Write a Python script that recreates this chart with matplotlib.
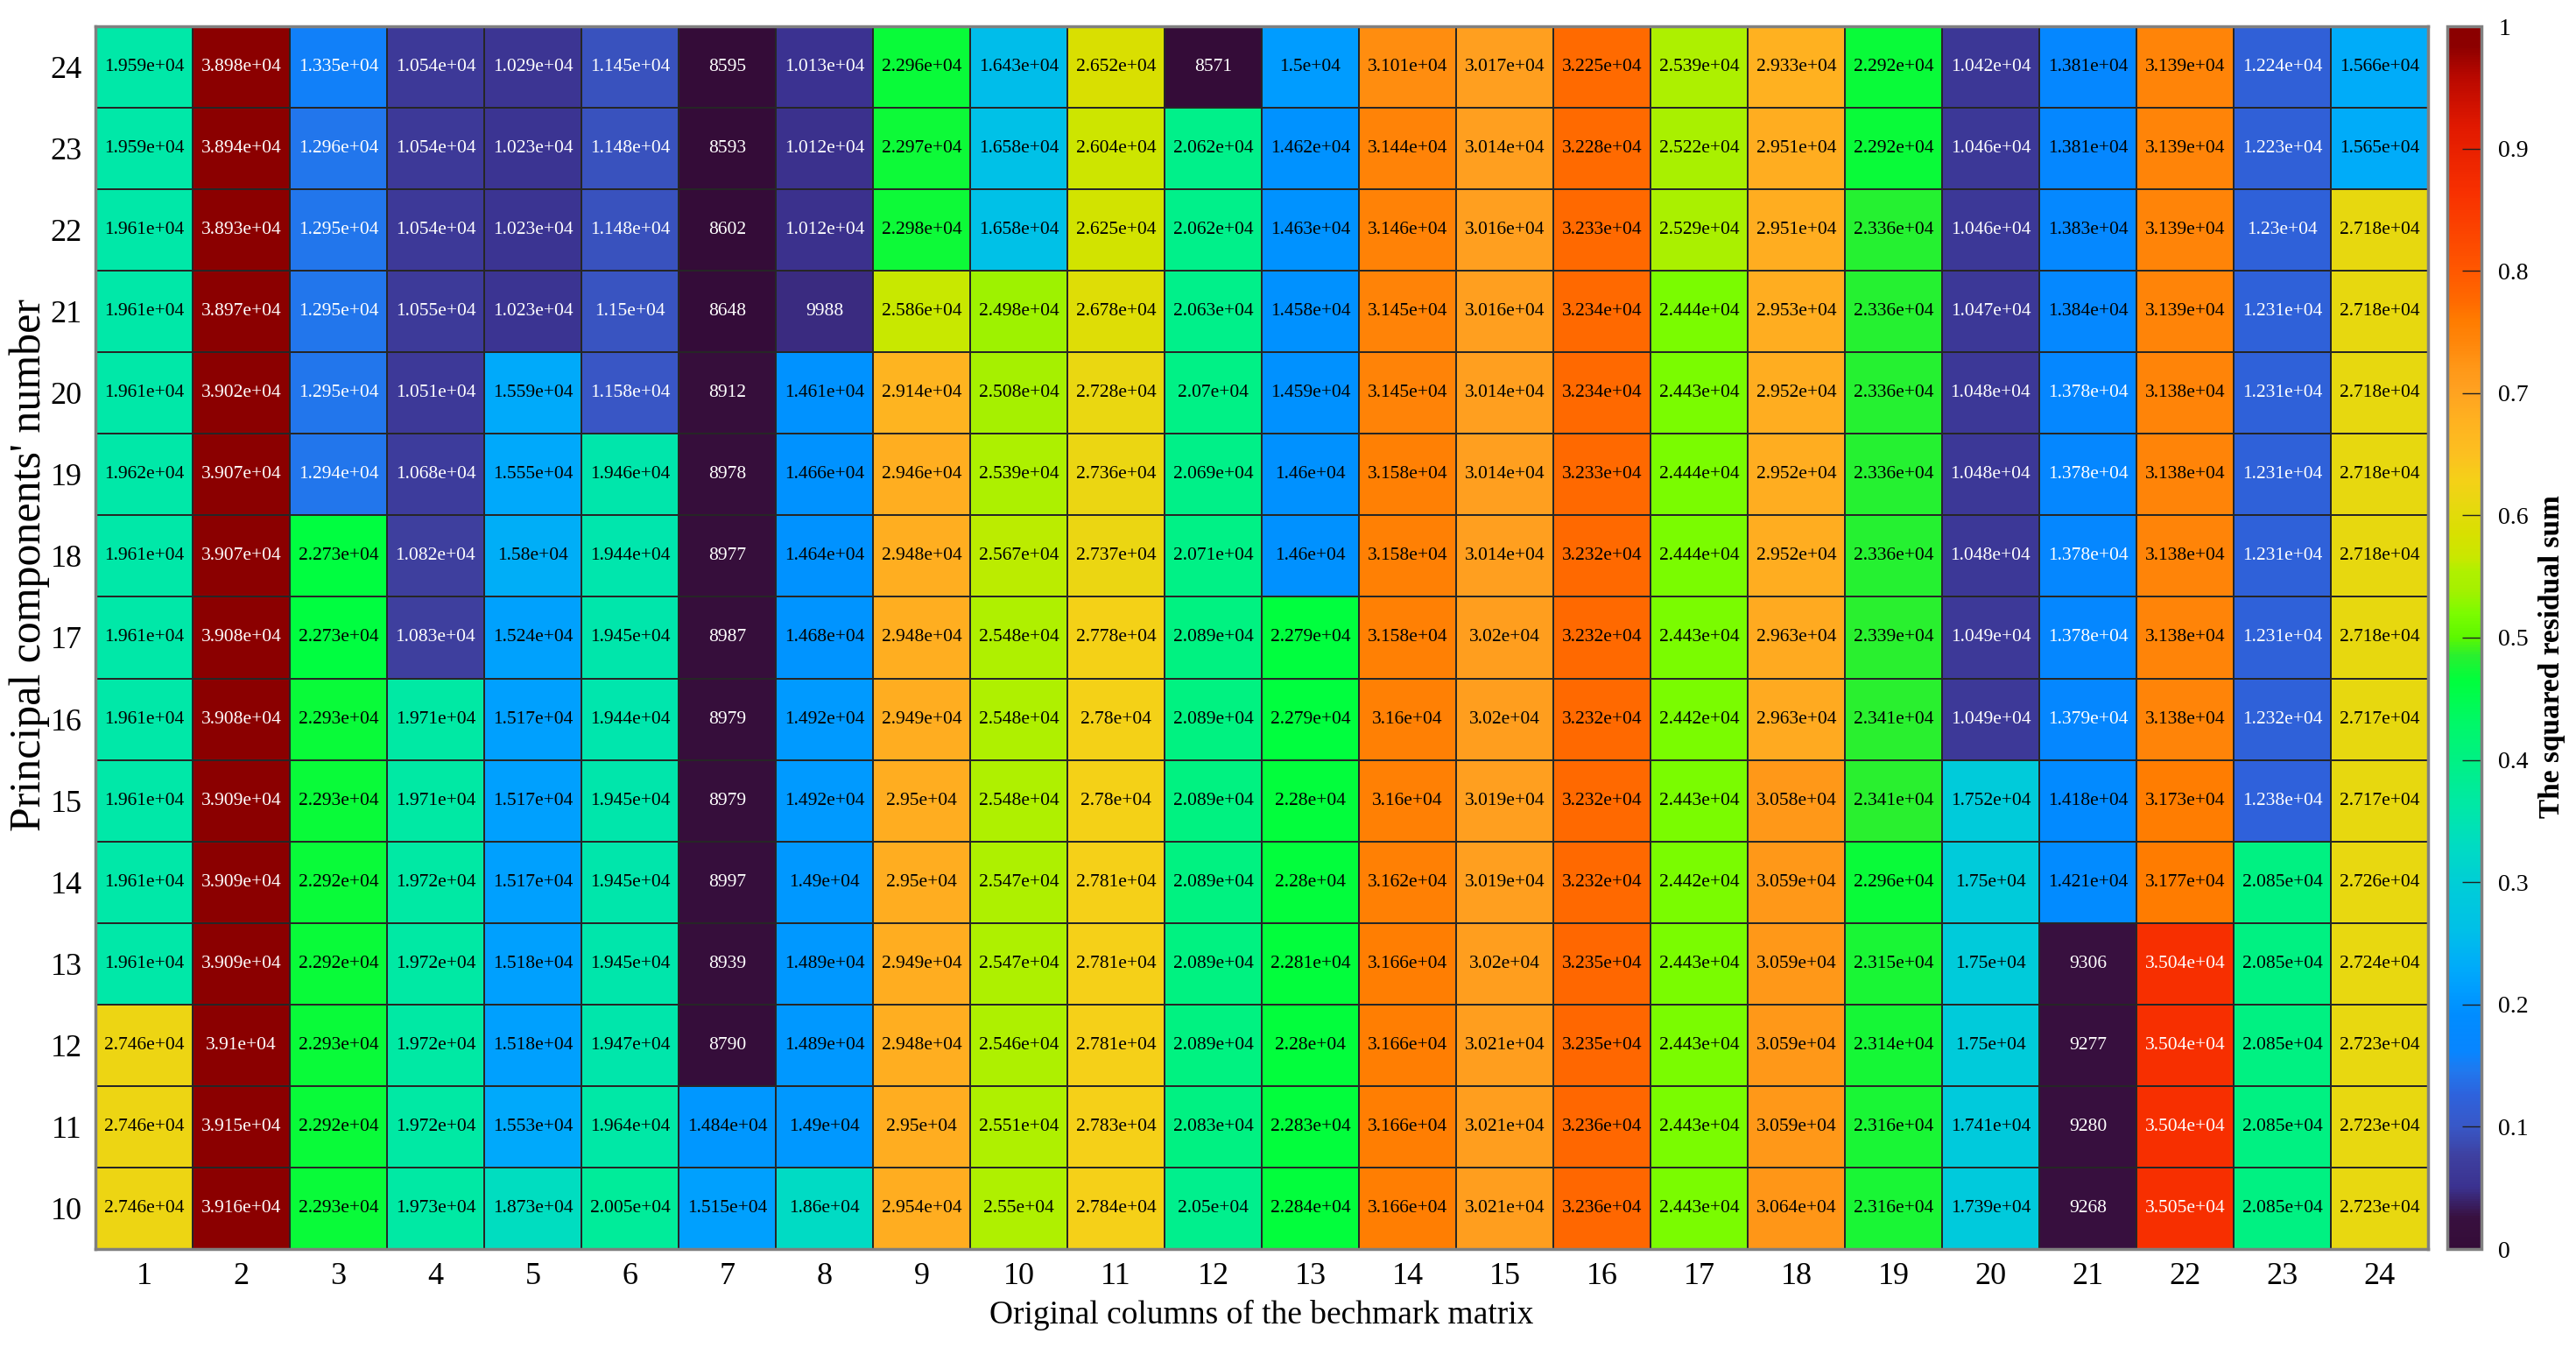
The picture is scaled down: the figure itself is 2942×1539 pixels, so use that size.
import numpy as np
import matplotlib
matplotlib.use("Agg")
import matplotlib.pyplot as plt
from matplotlib.colors import LinearSegmentedColormap

plt.rcParams['font.family'] = ['Liberation Serif', 'DejaVu Serif']

# ---------------- data ----------------
columns = list(range(1, 25))
pcs = [24, 23, 22, 21, 20, 19, 18, 17, 16, 15, 14, 13, 12, 11, 10]  # top -> bottom

row24 = [1.959e4, 3.898e4, 1.335e4, 1.054e4, 1.029e4, 1.145e4, 8595, 1.013e4, 2.296e4, 1.643e4, 2.652e4, 8571, 1.5e4, 3.101e4, 3.017e4, 3.225e4, 2.539e4, 2.933e4, 2.292e4, 1.042e4, 1.381e4, 3.139e4, 1.224e4, 1.566e4]
row23 = [1.959e4, 3.894e4, 1.296e4, 1.054e4, 1.023e4, 1.148e4, 8593, 1.012e4, 2.297e4, 1.658e4, 2.604e4, 2.062e4, 1.462e4, 3.144e4, 3.014e4, 3.228e4, 2.522e4, 2.951e4, 2.292e4, 1.046e4, 1.381e4, 3.139e4, 1.223e4, 1.565e4]
row22 = [1.961e4, 3.893e4, 1.295e4, 1.054e4, 1.023e4, 1.148e4, 8602, 1.012e4, 2.298e4, 1.658e4, 2.625e4, 2.062e4, 1.463e4, 3.146e4, 3.016e4, 3.233e4, 2.529e4, 2.951e4, 2.336e4, 1.046e4, 1.383e4, 3.139e4, 1.23e4, 2.718e4]
row21 = [1.961e4, 3.897e4, 1.295e4, 1.055e4, 1.023e4, 1.15e4, 8648, 9988, 2.586e4, 2.498e4, 2.678e4, 2.063e4, 1.458e4, 3.145e4, 3.016e4, 3.234e4, 2.444e4, 2.953e4, 2.336e4, 1.047e4, 1.384e4, 3.139e4, 1.231e4, 2.718e4]
row20 = [1.961e4, 3.902e4, 1.295e4, 1.051e4, 1.559e4, 1.158e4, 8912, 1.461e4, 2.914e4, 2.508e4, 2.728e4, 2.07e4, 1.459e4, 3.145e4, 3.014e4, 3.234e4, 2.443e4, 2.952e4, 2.336e4, 1.048e4, 1.378e4, 3.138e4, 1.231e4, 2.718e4]
row19 = [1.962e4, 3.907e4, 1.294e4, 1.068e4, 1.555e4, 1.946e4, 8978, 1.466e4, 2.946e4, 2.539e4, 2.736e4, 2.069e4, 1.46e4, 3.158e4, 3.014e4, 3.233e4, 2.444e4, 2.952e4, 2.336e4, 1.048e4, 1.378e4, 3.138e4, 1.231e4, 2.718e4]
row18 = [1.961e4, 3.907e4, 2.273e4, 1.082e4, 1.58e4, 1.944e4, 8977, 1.464e4, 2.948e4, 2.567e4, 2.737e4, 2.071e4, 1.46e4, 3.158e4, 3.014e4, 3.232e4, 2.444e4, 2.952e4, 2.336e4, 1.048e4, 1.378e4, 3.138e4, 1.231e4, 2.718e4]
row17 = [1.961e4, 3.908e4, 2.273e4, 1.083e4, 1.524e4, 1.945e4, 8987, 1.468e4, 2.948e4, 2.548e4, 2.778e4, 2.089e4, 2.279e4, 3.158e4, 3.02e4, 3.232e4, 2.443e4, 2.963e4, 2.339e4, 1.049e4, 1.378e4, 3.138e4, 1.231e4, 2.718e4]
row16 = [1.961e4, 3.908e4, 2.293e4, 1.971e4, 1.517e4, 1.944e4, 8979, 1.492e4, 2.949e4, 2.548e4, 2.78e4, 2.089e4, 2.279e4, 3.16e4, 3.02e4, 3.232e4, 2.442e4, 2.963e4, 2.341e4, 1.049e4, 1.379e4, 3.138e4, 1.232e4, 2.717e4]
row15 = [1.961e4, 3.909e4, 2.293e4, 1.971e4, 1.517e4, 1.945e4, 8979, 1.492e4, 2.95e4, 2.548e4, 2.78e4, 2.089e4, 2.28e4, 3.16e4, 3.019e4, 3.232e4, 2.443e4, 3.058e4, 2.341e4, 1.752e4, 1.418e4, 3.173e4, 1.238e4, 2.717e4]
row14 = [1.961e4, 3.909e4, 2.292e4, 1.972e4, 1.517e4, 1.945e4, 8997, 1.49e4, 2.95e4, 2.547e4, 2.781e4, 2.089e4, 2.28e4, 3.162e4, 3.019e4, 3.232e4, 2.442e4, 3.059e4, 2.296e4, 1.75e4, 1.421e4, 3.177e4, 2.085e4, 2.726e4]
row13 = [1.961e4, 3.909e4, 2.292e4, 1.972e4, 1.518e4, 1.945e4, 8939, 1.489e4, 2.949e4, 2.547e4, 2.781e4, 2.089e4, 2.281e4, 3.166e4, 3.02e4, 3.235e4, 2.443e4, 3.059e4, 2.315e4, 1.75e4, 9306, 3.504e4, 2.085e4, 2.724e4]
row12 = [2.746e4, 3.91e4, 2.293e4, 1.972e4, 1.518e4, 1.947e4, 8790, 1.489e4, 2.948e4, 2.546e4, 2.781e4, 2.089e4, 2.28e4, 3.166e4, 3.021e4, 3.235e4, 2.443e4, 3.059e4, 2.314e4, 1.75e4, 9277, 3.504e4, 2.085e4, 2.723e4]
row11 = [2.746e4, 3.915e4, 2.292e4, 1.972e4, 1.553e4, 1.964e4, 1.484e4, 1.49e4, 2.95e4, 2.551e4, 2.783e4, 2.083e4, 2.283e4, 3.166e4, 3.021e4, 3.236e4, 2.443e4, 3.059e4, 2.316e4, 1.741e4, 9280, 3.504e4, 2.085e4, 2.723e4]
row10 = [2.746e4, 3.916e4, 2.293e4, 1.973e4, 1.873e4, 2.005e4, 1.515e4, 1.86e4, 2.954e4, 2.55e4, 2.784e4, 2.05e4, 2.284e4, 3.166e4, 3.021e4, 3.236e4, 2.443e4, 3.064e4, 2.316e4, 1.739e4, 9268, 3.505e4, 2.085e4, 2.723e4]

x_label = "Original columns of the bechmark matrix"
y_label = "Principal components' number"
cbar_label = "The squared residual sum"
cbar_ticks = [0, 0.1, 0.2, 0.3, 0.4, 0.5, 0.6, 0.7, 0.8, 0.9, 1]

rows = [row24, row23, row22, row21, row20, row19, row18, row17, row16,
        row15, row14, row13, row12, row11, row10]
vals = np.array(rows, dtype=float)
norm_vals = (vals - vals.min()) / (vals.max() - vals.min())

# ---------------- colormap ----------------
anchors = [
    (0.000, '#340c38'), (0.025, '#38103f'), (0.050, '#3b3290'),
    (0.075, '#3e40a0'), (0.100, '#3858c8'), (0.125, '#2e62dc'),
    (0.145, '#2078ee'), (0.160, '#0885ff'), (0.190, '#008cff'),
    (0.210, '#009cff'), (0.230, '#00abfa'), (0.260, '#00c0e8'),
    (0.300, '#00ced6'), (0.330, '#00dcc2'), (0.360, '#00e8a8'),
    (0.395, '#00f088'), (0.430, '#00f868'), (0.465, '#00ff3c'),
    (0.485, '#28f030'), (0.500, '#5cf800'), (0.520, '#7cfc00'),
    (0.540, '#a6f000'), (0.555, '#b0f000'), (0.565, '#c8e800'),
    (0.585, '#d8e000'), (0.610, '#e8d810'), (0.630, '#f5d018'),
    (0.650, '#fcc020'), (0.680, '#ffb020'), (0.705, '#ffa020'),
    (0.720, '#ff9818'), (0.745, '#ff8408'), (0.760, '#ff7c00'),
    (0.775, '#ff6a00'), (0.800, '#ff5800'), (0.865, '#f83000'),
    (0.920, '#e01800'), (0.960, '#b80800'), (0.985, '#8c0000'),
    (1.000, '#8b0000'),
]
cmap = LinearSegmentedColormap.from_list('custom_turbo', anchors, N=512)

# ---------------- figure ----------------
W, H = 2942, 1539
fig = plt.figure(figsize=(W / 100, H / 100), dpi=100)
ax_l, ax_r, ax_t, ax_b = 109, 2773, 30, 1426
ax = fig.add_axes([ax_l / W, 1 - ax_b / H, (ax_r - ax_l) / W, (ax_b - ax_t) / H])

ncol = len(columns)
nrow = len(pcs)
x_edges = np.arange(ncol + 1) + 0.5
y_edges = np.arange(nrow + 1) - 0.5
disp = norm_vals[::-1]
mesh = ax.pcolormesh(x_edges, y_edges, disp, cmap=cmap, vmin=0, vmax=1,
                     edgecolors='#262626', linewidth=1.4)

for i, pc in enumerate(pcs):
    yy = nrow - 1 - i
    for j, c in enumerate(columns):
        v = vals[i, j]
        n = norm_vals[i, j]
        color = 'white' if (n < 0.171 or n > 0.85) else 'black'
        ax.text(c, yy, '%.4g' % v, ha='center', va='center',
                fontsize=15.5, color=color)

ax.set_xlim(0.5, ncol + 0.5)
ax.set_ylim(-0.5, nrow - 0.5)
ax.set_xticks(columns)
ax.set_xticklabels([str(c) for c in columns], fontsize=26)
ax.set_yticks(np.arange(nrow))
ax.set_yticklabels([str(p) for p in pcs[::-1]], fontsize=26)
ax.tick_params(length=0, pad=11)
for s in ax.spines.values():
    s.set_color('#808080')
    s.set_linewidth(2.5)

fig.text(1441 / W, 1 - 1501 / H, x_label, ha='center', va='center', fontsize=27)
fig.text(34 / W, 1 - 645 / H, y_label, ha='center', va='center', fontsize=36,
         rotation=90)

# ---------------- colorbar ----------------
cb_l, cb_r = 2795, 2834
cax = fig.add_axes([cb_l / W, 1 - ax_b / H, (cb_r - cb_l) / W, (ax_b - ax_t) / H])
cb = fig.colorbar(mesh, cax=cax, ticks=cbar_ticks)
cb.ax.set_yticklabels(['%g' % t for t in cbar_ticks], fontsize=20)
cb.ax.tick_params(direction='in', length=16, width=1, color='#202020', pad=14)
cb.outline.set_edgecolor('#808080')
cb.outline.set_linewidth(2.5)
fig.text(2914 / W, 1 - 750 / H, cbar_label, ha='center', va='center',
         fontsize=24, fontweight='bold', rotation=90)

fig.savefig('out.png', dpi=100)
